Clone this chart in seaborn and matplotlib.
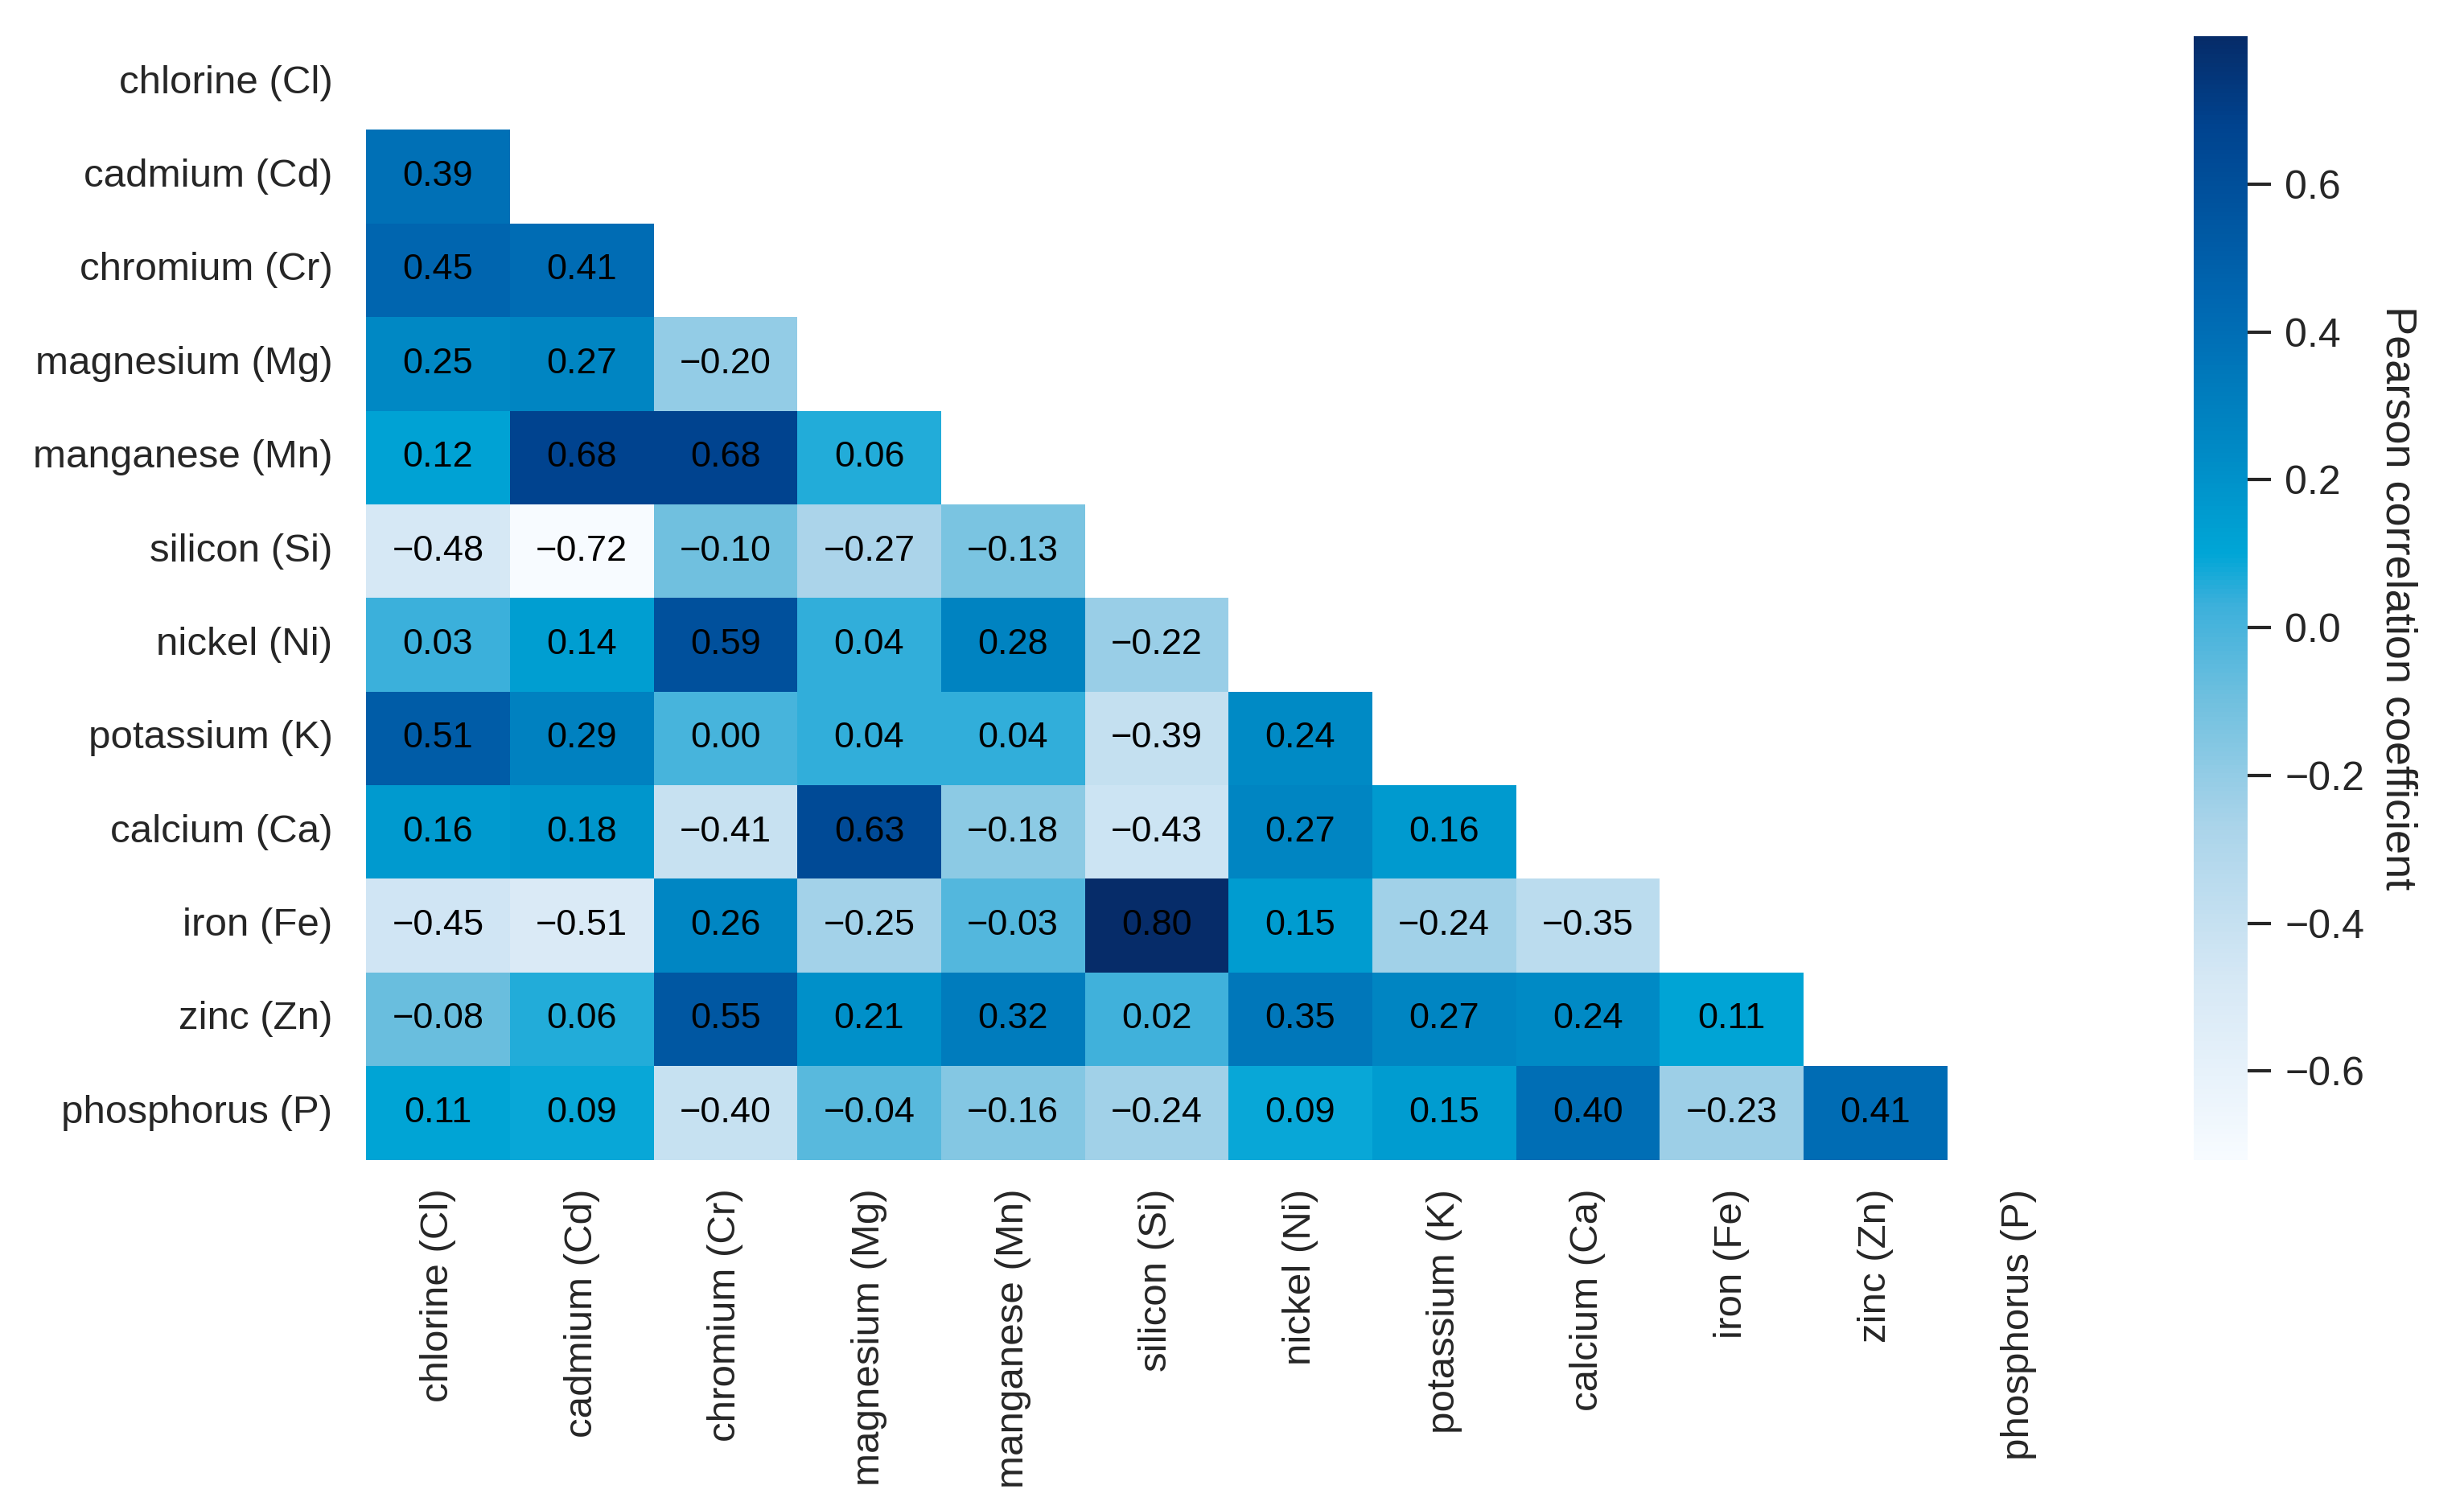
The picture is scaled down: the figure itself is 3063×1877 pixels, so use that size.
import numpy as np
import pandas as pd
import matplotlib
matplotlib.use("Agg")
import matplotlib.pyplot as plt
import seaborn as sns
from matplotlib.colors import LinearSegmentedColormap

labels = ["chlorine (Cl)", "cadmium (Cd)", "chromium (Cr)", "magnesium (Mg)",
          "manganese (Mn)", "silicon (Si)", "nickel (Ni)", "potassium (K)",
          "calcium (Ca)", "iron (Fe)", "zinc (Zn)", "phosphorus (P)"]

# lower-triangle rows (row i has correlations with columns 0..i-1)
r_cd = [0.39]
r_cr = [0.45, 0.41]
r_mg = [0.25, 0.27, -0.20]
r_mn = [0.12, 0.68, 0.68, 0.06]
r_si = [-0.48, -0.72, -0.10, -0.27, -0.13]
r_ni = [0.03, 0.14, 0.59, 0.04, 0.28, -0.22]
r_k = [0.51, 0.29, 0.00, 0.04, 0.04, -0.39, 0.24]
r_ca = [0.16, 0.18, -0.41, 0.63, -0.18, -0.43, 0.27, 0.16]
r_fe = [-0.45, -0.51, 0.26, -0.25, -0.03, 0.80, 0.15, -0.24, -0.35]
r_zn = [-0.08, 0.06, 0.55, 0.21, 0.32, 0.02, 0.35, 0.27, 0.24, 0.11]
r_p = [0.11, 0.09, -0.40, -0.04, -0.16, -0.24, 0.09, 0.15, 0.40, -0.23, 0.41]

rows = [[], r_cd, r_cr, r_mg, r_mn, r_si, r_ni, r_k, r_ca, r_fe, r_zn, r_p]
n = len(labels)
mat = np.eye(n)
for i, r in enumerate(rows):
    for j, v in enumerate(r):
        mat[i, j] = v
        mat[j, i] = v
df = pd.DataFrame(mat, index=labels, columns=labels)
mask = np.triu(np.ones_like(mat, dtype=bool))

annot = np.array([[f"{v:.2f}".replace("-", "\u2212") for v in row] for row in mat])

# custom colormap (white -> cyan -> navy)
vmin, vmax = -0.72, 0.80
node_vals = [-0.72, -0.48, -0.27, -0.10, 0.03, 0.10, 0.25, 0.45, 0.68, 0.80]
node_cols = ["#f7fbff", "#d6e8f5", "#aad4ea", "#70c0df", "#3cb0db", "#00a6d6",
             "#0088c4", "#0066b0", "#00438f", "#062c69"]
pos = [(v - vmin) / (vmax - vmin) for v in node_vals]
cmap = LinearSegmentedColormap.from_list("pearson", list(zip(pos, node_cols)))

cbar_ticks = [-0.6, -0.4, -0.2, 0.0, 0.2, 0.4, 0.6]

sns.set_theme(style="white")
plt.rcParams["font.family"] = ["Liberation Sans", "DejaVu Sans"]

fig = plt.figure(figsize=(30.63, 18.77), dpi=100)
ax = fig.add_axes([0.1486, 0.232, 0.700, 0.744])
cax = fig.add_axes([0.8903, 0.232, 0.022, 0.744])

sns.heatmap(df, mask=mask, cmap=cmap, vmin=vmin, vmax=vmax, annot=annot, fmt="",
            annot_kws={"size": 32.5, "color": "black"}, ax=ax, cbar_ax=cax,
            cbar_kws={"ticks": cbar_ticks})

ax.tick_params(axis="both", length=0, labelsize=35.5, pad=30)
ax.tick_params(axis="x", pad=26)
ax.set_xticklabels(labels, rotation=90)
ax.set_yticklabels(labels, rotation=0)
ax.set_xlabel("")
ax.set_ylabel("")

cax.tick_params(labelsize=36, length=21, width=3, pad=12, right=True)
cax.set_yticklabels([f"{t:.1f}".replace("-", "\u2212") for t in cbar_ticks])
cax.set_ylabel("Pearson correlation coefficient", fontsize=39, rotation=270, labelpad=48)

fig.savefig("out.png", dpi=100, facecolor="white")
